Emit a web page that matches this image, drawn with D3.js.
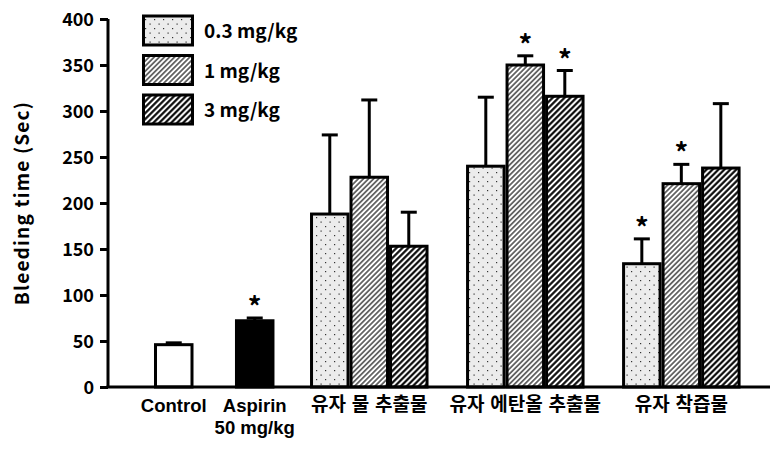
<!DOCTYPE html>
<html><head><meta charset="utf-8">
<script src="https://cdn.jsdelivr.net/npm/d3@7"></script>
<style>
html,body{margin:0;padding:0;background:#fff;}
text{font-family:"Noto Sans CJK KR","Noto Sans",sans-serif;font-weight:700;fill:#000;}
text.lat{font-family:"Liberation Sans",Arial,sans-serif;}
</style></head><body>
<svg id="c" width="771" height="450"></svg>
<script>
// ---- data ----
const controlLabel = ["Control"];
const aspirinLabel = ["Aspirin", "50 mg/kg"];
const groupLabels = ["유자 물 추출물", "유자 에탄올 추출물", "유자 착즙물"];
const doseLabels = ["0.3 mg/kg", "1 mg/kg", "3 mg/kg"];
const controlValue = 46, controlErr = 2;
const aspirinValue = 72, aspirinErr = 3, aspirinStar = true;
// rows = groups, cols = doses
const groupValues = [[188, 228, 153], [240, 350, 316], [134, 221, 238]];
const groupErrors = [[86, 84, 37], [75, 10, 28], [27, 21, 70]];
const groupStars = [[false, false, false], [false, true, true], [true, true, false]];
const yTicks = [0, 50, 100, 150, 200, 250, 300, 350, 400];

// ---- layout ----
const svg = d3.select("#c");
const x0 = 108, x1 = 770, yBottom = 387, yTop = 19;
const y = d3.scaleLinear().domain([0, 400]).range([yBottom, yTop]);
// bar slots in units of one bar width
const unit = d3.scaleLinear().domain([0, 1]).range([154, 193.5]);
const bw = unit(1) - unit(0);
const catStart = [0, 2.05, 3.95, 7.9, 11.85];

const defs = svg.append("defs");
const pDots = defs.append("pattern").attr("id", "pDots").attr("patternUnits", "userSpaceOnUse")
  .attr("width", 9).attr("height", 9);
pDots.append("rect").attr("width", 9).attr("height", 9).attr("fill", "#ececec");
pDots.append("rect").attr("x", 1).attr("y", 1).attr("width", 1.2).attr("height", 1.2).attr("fill", "#333");
pDots.append("rect").attr("x", 5.5).attr("y", 5.5).attr("width", 1.2).attr("height", 1.2).attr("fill", "#333");
function hatch(id, sp, w) {
  const p = defs.append("pattern").attr("id", id).attr("patternUnits", "userSpaceOnUse")
    .attr("width", sp).attr("height", sp).attr("patternTransform", "rotate(45)");
  p.append("rect").attr("width", sp).attr("height", sp).attr("fill", "#fff");
  p.append("line").attr("x1", sp / 2).attr("x2", sp / 2).attr("y1", 0).attr("y2", sp)
    .attr("stroke", "#000").attr("stroke-width", w);
}
hatch("pH1", 3.6, 1.1);
hatch("pH3", 4.2, 2.1);
const fills = ["url(#pDots)", "url(#pH1)", "url(#pH3)"];

// bars list
const bars = [];
bars.push({pos: catStart[0], v: controlValue, e: controlErr, star: false, fill: "#fff"});
bars.push({pos: catStart[1], v: aspirinValue, e: aspirinErr, star: aspirinStar, fill: "#000"});
groupValues.forEach((row, g) => row.forEach((v, d) => {
  bars.push({pos: catStart[g + 2] + d, v, e: groupErrors[g][d], star: groupStars[g][d], fill: fills[d]});
}));

// error bars
const eb = svg.append("g");
bars.forEach(b => {
  const cx = unit(b.pos + 0.5);
  eb.append("line").attr("x1", cx).attr("x2", cx).attr("y1", y(b.v)).attr("y2", y(b.v + b.e))
    .attr("stroke", "#000").attr("stroke-width", 3);
  eb.append("line").attr("x1", cx - 8).attr("x2", cx + 8).attr("y1", y(b.v + b.e)).attr("y2", y(b.v + b.e))
    .attr("stroke", "#000").attr("stroke-width", 3);
  if (b.star) {
    svg.append("text").attr("x", cx).attr("y", y(b.v + b.e) - 1).attr("text-anchor", "middle")
      .attr("font-size", 27).attr("font-weight", 700).text("*");
  }
});
// bars
svg.append("g").selectAll("rect").data(bars).join("rect")
  .attr("x", d => unit(d.pos) + 1.5).attr("width", bw - 3)
  .attr("y", d => y(d.v)).attr("height", d => yBottom - y(d.v))
  .attr("fill", d => d.fill).attr("stroke", "#000").attr("stroke-width", 3);

// axes
const ya = svg.append("g").attr("transform", `translate(${x0},0)`)
  .call(d3.axisLeft(y).tickValues(yTicks).tickSize(8).tickPadding(6));
ya.select(".domain").attr("stroke-width", 3).attr("d", `M0,${yBottom}V${yTop}`);
ya.selectAll(".tick line").attr("stroke-width", 3);
ya.selectAll(".tick text").attr("font-size", 18).attr("font-family", null).attr("dy", "0.35em");
svg.append("line").attr("x1", x0 - 1.5).attr("x2", x1).attr("y1", yBottom).attr("y2", yBottom)
  .attr("stroke", "#000").attr("stroke-width", 3);

// x labels
const lblY = 412, fs = 19;
svg.append("text").attr("class", "lat").attr("x", unit(catStart[0] + 0.5)).attr("y", lblY).attr("text-anchor", "middle")
  .attr("font-size", 18.5).text(controlLabel[0]);
const asp = svg.append("text").attr("class", "lat").attr("text-anchor", "middle").attr("font-size", 18.5);
aspirinLabel.forEach((t, i) => asp.append("tspan").attr("x", unit(catStart[1] + 0.5))
  .attr("y", lblY + 21.5 * i).text(t));
groupLabels.forEach((t, g) => svg.append("text").attr("x", unit(catStart[g + 2] + 1.5)).attr("y", lblY - 1)
  .attr("text-anchor", "middle").attr("font-size", 19).attr("word-spacing", 1.5).text(t));

// y title
svg.append("text").attr("transform", "translate(29,203) rotate(-90)").attr("text-anchor", "middle")
  .attr("font-size", 19).attr("letter-spacing", 1.2).text("Bleeding time (Sec)");

// legend
doseLabels.forEach((t, i) => {
  const ly = 16 + 39.5 * i;
  svg.append("rect").attr("x", 143.5).attr("y", ly).attr("width", 49).attr("height", 29)
    .attr("fill", fills[i]).attr("stroke", "#000").attr("stroke-width", 3);
  svg.append("text").attr("x", 204).attr("y", ly + 22).attr("font-size", fs).text(t);
});
</script></body></html>
